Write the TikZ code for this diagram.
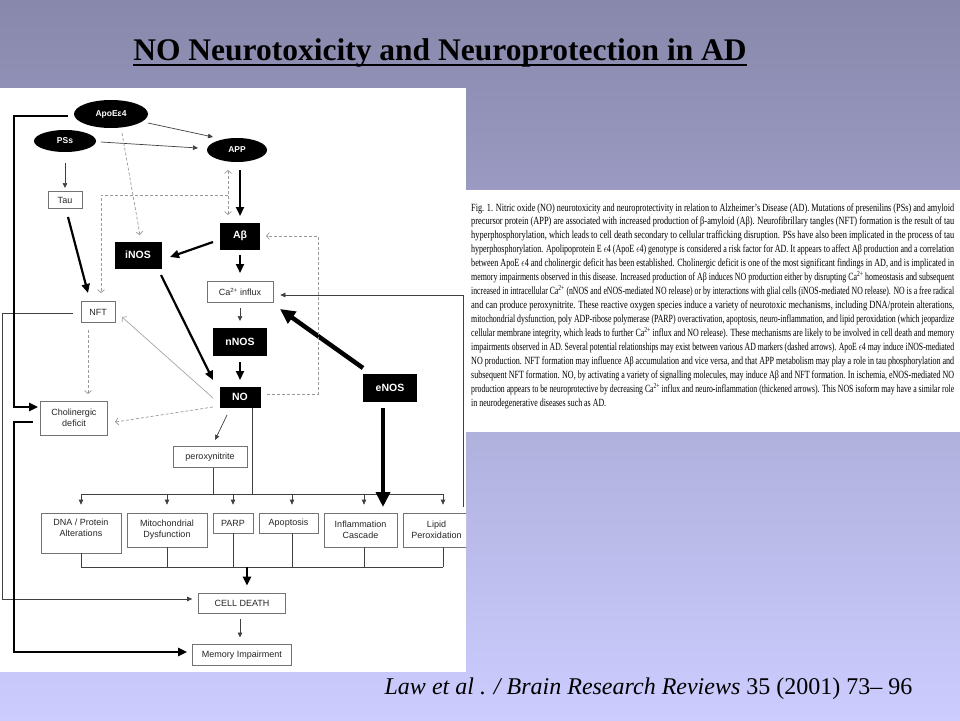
\documentclass[tikz,border=0pt]{standalone}
\usepackage{fontspec}
\setmainfont{Liberation Serif}
\setsansfont{Liberation Sans}
\usepackage{graphicx}
\usetikzlibrary{shapes.geometric,arrows.meta,calc}
\definecolor{bgtop}{RGB}{136,136,172}
\definecolor{bgbot}{RGB}{204,204,255}
\newcommand\capln[1]{\resizebox{483pt}{\height}{#1}}
\newcommand\cs{Ca\textsuperscript{2+}}
\begin{document}
\begin{tikzpicture}[x=1pt,y=-1pt,
  ell/.style={ellipse,fill=black,text=white,inner sep=0,font=\sffamily\bfseries\fontsize{8.5}{10}\selectfont},
  wbox/.style={rectangle,draw=black!55,line width=0.7pt,fill=white,inner sep=0,align=center,font=\sffamily\fontsize{9}{11}\selectfont,text=black!85},
  bbox/.style={rectangle,fill=black,text=white,inner sep=0,font=\sffamily\bfseries\fontsize{10.5}{12}\selectfont},
  thin/.style={draw=black!75,line width=0.7pt},
  thinarr/.style={thin,-{Triangle[length=5pt,width=4.5pt]}},
  thk/.style={draw=black,line width=2.2pt},
  thkarr/.style={thk,-{Triangle[length=9pt,width=8pt]}},
  vthkarr/.style={draw=black,line width=4.5pt,-{Triangle[length=15pt,width=14pt]}},
  dsh/.style={draw=black!40,line width=0.7pt,dash pattern=on 3pt off 2pt},
  barb/.tip={Straight Barb[length=3pt,width=7pt]},
  dsharr/.style={dsh,-barb},
  capl/.style={anchor=base west,inner sep=0,text=black,font=\fontsize{11}{12}\selectfont},
]
\useasboundingbox (0,0) rectangle (960,720);
\shade[top color=bgtop,bottom color=bgbot] (0,0) rectangle (960,720);
\fill[white] (0,88) rectangle (466,672);
\fill[white] (466,190) rectangle (960,432);

% title
\node[font=\fontsize{31.5}{36}\selectfont\bfseries,anchor=base,inner sep=0] (title) at (440,60) {NO Neurotoxicity and Neuroprotection in AD};
\draw[line width=2.2pt] ($(title.base west)+(0,5)$) -- ($(title.base east)+(0,5)$);

% citation
\node[font=\fontsize{24}{28}\selectfont,anchor=base,inner sep=0] (cite) at (648.5,694) {\textit{Law et al . / Brain Research Reviews} 35 (2001) 73– 96};

% caption
\node[capl] (c1) at (471,211) {\capln{Fig. 1. Nitric oxide (NO) neurotoxicity and neuroprotectivity in relation to Alzheimer’s Disease (AD). Mutations of presenilins (PSs) and amyloid}};
\node[capl] (c2) at (471,224.95) {\capln{precursor protein (APP) are associated with increased production of β-amyloid (Aβ). Neurofibrillary tangles (NFT) formation is the result of tau}};
\node[capl] (c3) at (471,238.9) {\capln{hyperphosphorylation, which leads to cell death secondary to cellular trafficking disruption. PSs have also been implicated in the process of tau}};
\node[capl] (c4) at (471,252.85) {\capln{hyperphosphorylation. Apolipoprotein E $\epsilon$4 (ApoE $\epsilon$4) genotype is considered a risk factor for AD. It appears to affect Aβ production and a correlation}};
\node[capl] (c5) at (471,266.8) {\capln{between ApoE $\epsilon$4 and cholinergic deficit has been established. Cholinergic deficit is one of the most significant findings in AD, and is implicated in}};
\node[capl] (c6) at (471,280.75) {\capln{memory impairments observed in this disease. Increased production of Aβ induces NO production either by disrupting \cs{} homeostasis and subsequent}};
\node[capl] (c7) at (471,294.7) {\capln{increased in intracellular \cs{} (nNOS and eNOS-mediated NO release) or by interactions with glial cells (iNOS-mediated NO release). NO is a free radical}};
\node[capl] (c8) at (471,308.65) {\capln{and can produce peroxynitrite. These reactive oxygen species induce a variety of neurotoxic mechanisms, including DNA/protein alterations,}};
\node[capl] (c9) at (471,322.6) {\capln{mitochondrial dysfunction, poly ADP-ribose polymerase (PARP) overactivation, apoptosis, neuro-inflammation, and lipid peroxidation (which jeopardize}};
\node[capl] (c10) at (471,336.55) {\capln{cellular membrane integrity, which leads to further \cs{} influx and NO release). These mechanisms are likely to be involved in cell death and memory}};
\node[capl] (c11) at (471,350.5) {\capln{impairments observed in AD. Several potential relationships may exist between various AD markers (dashed arrows). ApoE $\epsilon$4 may induce iNOS-mediated}};
\node[capl] (c12) at (471,364.45) {\capln{NO production. NFT formation may influence Aβ accumulation and vice versa, and that APP metabolism may play a role in tau phosphorylation and}};
\node[capl] (c13) at (471,378.4) {\capln{subsequent NFT formation. NO, by activating a variety of signalling molecules, may induce Aβ and NFT formation. In ischemia, eNOS-mediated NO}};
\node[capl] (c14) at (471,392.35) {\capln{production appears to be neuroprotective by decreasing \cs{} influx and neuro-inflammation (thickened arrows). This NOS isoform may have a similar role}};
\node[capl] (c15) at (471,406.3) {\resizebox{135pt}{\height}{in neurodegenerative diseases such as AD.}};

\begin{scope}
\clip (0,88) rectangle (466,672);
% nodes
\node[ell,minimum width=74pt,minimum height=28pt] (apoe) at (111,114) {ApoEε4};
\node[ell,minimum width=62pt,minimum height=22pt] (pss) at (65,141) {PSs};
\node[ell,minimum width=60pt,minimum height=24pt] (app) at (237,150) {APP};
\node[wbox,minimum width=34pt,minimum height=17pt] (tau) at (65,200) {Tau};
\node[bbox,minimum width=40pt,minimum height=27pt] (ab) at (240,236) {Aβ};
\node[bbox,minimum width=47pt,minimum height=27pt] (inos) at (138,255) {iNOS};
\node[wbox,minimum width=66pt,minimum height=21pt] (ca) at (240,292) {\cs{} influx};
\node[wbox,minimum width=34pt,minimum height=21pt] (nft) at (98,312) {NFT};
\node[bbox,minimum width=54pt,minimum height=28pt] (nnos) at (240,342) {nNOS};
\node[bbox,minimum width=41pt,minimum height=21pt] (no) at (240,397) {NO};
\node[bbox,minimum width=54pt,minimum height=28pt] (enos) at (390,388) {eNOS};
\node[wbox,minimum width=67pt,minimum height=34pt] (chol) at (74,418) {Cholinergic\\deficit};
\node[wbox,minimum width=74pt,minimum height=21pt] (perox) at (210,457) {peroxynitrite};
\node[wbox,minimum width=80pt,minimum height=40pt] (dna) at (81,533) {DNA / Protein\\Alterations\\\mbox{}};
\node[wbox,minimum width=80pt,minimum height=34pt] (mito) at (167,530) {Mitochondrial\\Dysfunction};
\node[wbox,minimum width=40pt,minimum height=20pt] (parp) at (233,523) {PARP};
\node[wbox,minimum width=59pt,minimum height=20pt] (apop) at (288.5,523) {Apoptosis};
\node[wbox,minimum width=73pt,minimum height=34pt] (infl) at (360.5,530) {Inflammation\\Cascade};
\node[wbox,minimum width=67pt,minimum height=34pt] (lipid) at (436.5,530) {Lipid\\Peroxidation};
\node[wbox,minimum width=87pt,minimum height=20pt] (cd) at (242,603) {CELL DEATH};
\node[wbox,minimum width=99pt,minimum height=21pt] (mem) at (242,655) {Memory Impairment};

% thin solid arrows
\draw[thinarr] ($(apoe.center)+(37,9)$) -- ($(app.center)+(-24,-13)$);
\draw[thinarr] ($(pss.center)+(36,1)$) -- ($(app.center)+(-39,-2)$);
\draw[thinarr] ($(pss.center)+(0,22)$) -- ($(tau.center)+(0,-12)$);
\draw[thinarr] ($(ca.center)+(0,16)$) -- ($(nnos.center)+(0,-21)$);
\draw[thinarr] ($(no.center)+(-13,18)$) -- ($(perox.center)+(5,-17)$);
\draw[thinarr] ($(cd.center)+(-2,16)$) -- ($(mem.center)+(-2,-17.5)$);
\draw[thinarr] ($(nft.west)+(-8,1)$) -| ($(cd.west)+(-195.5,-4)$) -- ($(cd.west)+(-6,-4)$);
\draw[thinarr] ($(lipid.north)+(26.5,-6)$) |- ($(ca.east)+(7,3)$);

% distribution bar
\coordinate (bar) at (0,494);
\coordinate (col) at (0,567);
\coordinate (px) at ($(perox.south)+(3,0)$);
\coordinate (nx) at ($(no.south)+(12,0)$);
\coordinate (apx) at ($(apop.north)+(3.5,0)$);
\coordinate (apb) at ($(apop.south)+(3.5,0)$);
\coordinate (inx) at ($(infl.north)+(3.5,0)$);
\coordinate (inb) at ($(infl.south)+(3.5,0)$);
\coordinate (lx) at ($(lipid.north)+(6.5,0)$);
\coordinate (lb) at ($(lipid.south)+(6.5,0)$);
\draw[thin] (px) -- (px |- bar);
\draw[thin] (nx) -- (nx |- bar);
\draw[thin] (dna.north |- bar) -- (lx |- bar);
\foreach \t in {dna.north,mito.north,parp.north,apx,inx,lx}
  \draw[thinarr] (\t |- bar) -- ($(\t)+(0,-8)$);
% collector
\foreach \b in {dna.south,mito.south,parp.south,apb,inb,lb}
  \draw[thin] (\b) -- (\b |- col);
\draw[thin] (dna.south |- col) -- (lb |- col);
\coordinate (cdn) at ($(cd.north)+(5,0)$);
\draw[thkarr] (cdn |- col) -- ($(cdn)+(0,-7)$);

% thick arrows
\draw[thkarr] ($(app.center)+(3,20)$) -- ($(ab.center)+(0,-20)$);
\draw[thkarr] ($(ab.center)+(-27,6)$) -- ($(inos.center)+(32,2)$);
\draw[thkarr] ($(ab.center)+(0,19)$) -- ($(ca.center)+(0,-19)$);
\draw[thkarr] ($(inos.center)+(23,20)$) -- ($(no.center)+(-27,-17)$);
\draw[thkarr] ($(nnos.center)+(0,20)$) -- ($(no.center)+(0,-17)$);
\draw[thkarr] ($(tau.center)+(3,17)$) -- ($(nft.center)+(-10,-19)$);
\draw[thkarr] ($(apoe.west)+(-6,2)$) -| ($(chol.west)+(-26.5,-11)$) -- ($(chol.west)+(-2,-11)$);
\draw[thkarr] ($(chol.west)+(-7,4)$) -| ($(mem.west)+(-178.5,-3)$) -- ($(mem.west)+(-5,-3)$);

% very thick (eNOS)
\draw[vthkarr] ($(enos.center)+(-27,-20)$) -- ($(ca.center)+(40,17)$);
\draw[vthkarr] ($(enos.center)+(-7,20)$) -- ($(infl.center)+(22.5,-23)$);

% dashed
\draw[dsharr] ($(apoe.center)+(11,19)$) -- ($(inos.center)+(2,-20)$);
\draw[dsh,barb-barb] ($(app.center)+(-9,20)$) -- ($(ab.center)+(-12,-21)$);
\draw[dsharr] ($(app.center)+(-9,45)$) -| ($(nft.center)+(3,-19)$);
\draw[dsharr] ($(no.center)+(27,-3)$) -| ($(ab.center)+(78,0)$) -- ($(ab.center)+(26,0)$);
\draw[dsharr] ($(nft.center)+(-10,18)$) -- ($(chol.center)+(14,-24)$);
\draw[dsharr] ($(no.center)+(-27,10)$) -- ($(chol.center)+(41,4)$);
\draw[draw=black!35,line width=0.7pt,-barb] ($(no.center)+(-27,1)$) -- ($(nft.center)+(24,5)$);
\end{scope}
\end{tikzpicture}
\end{document}
